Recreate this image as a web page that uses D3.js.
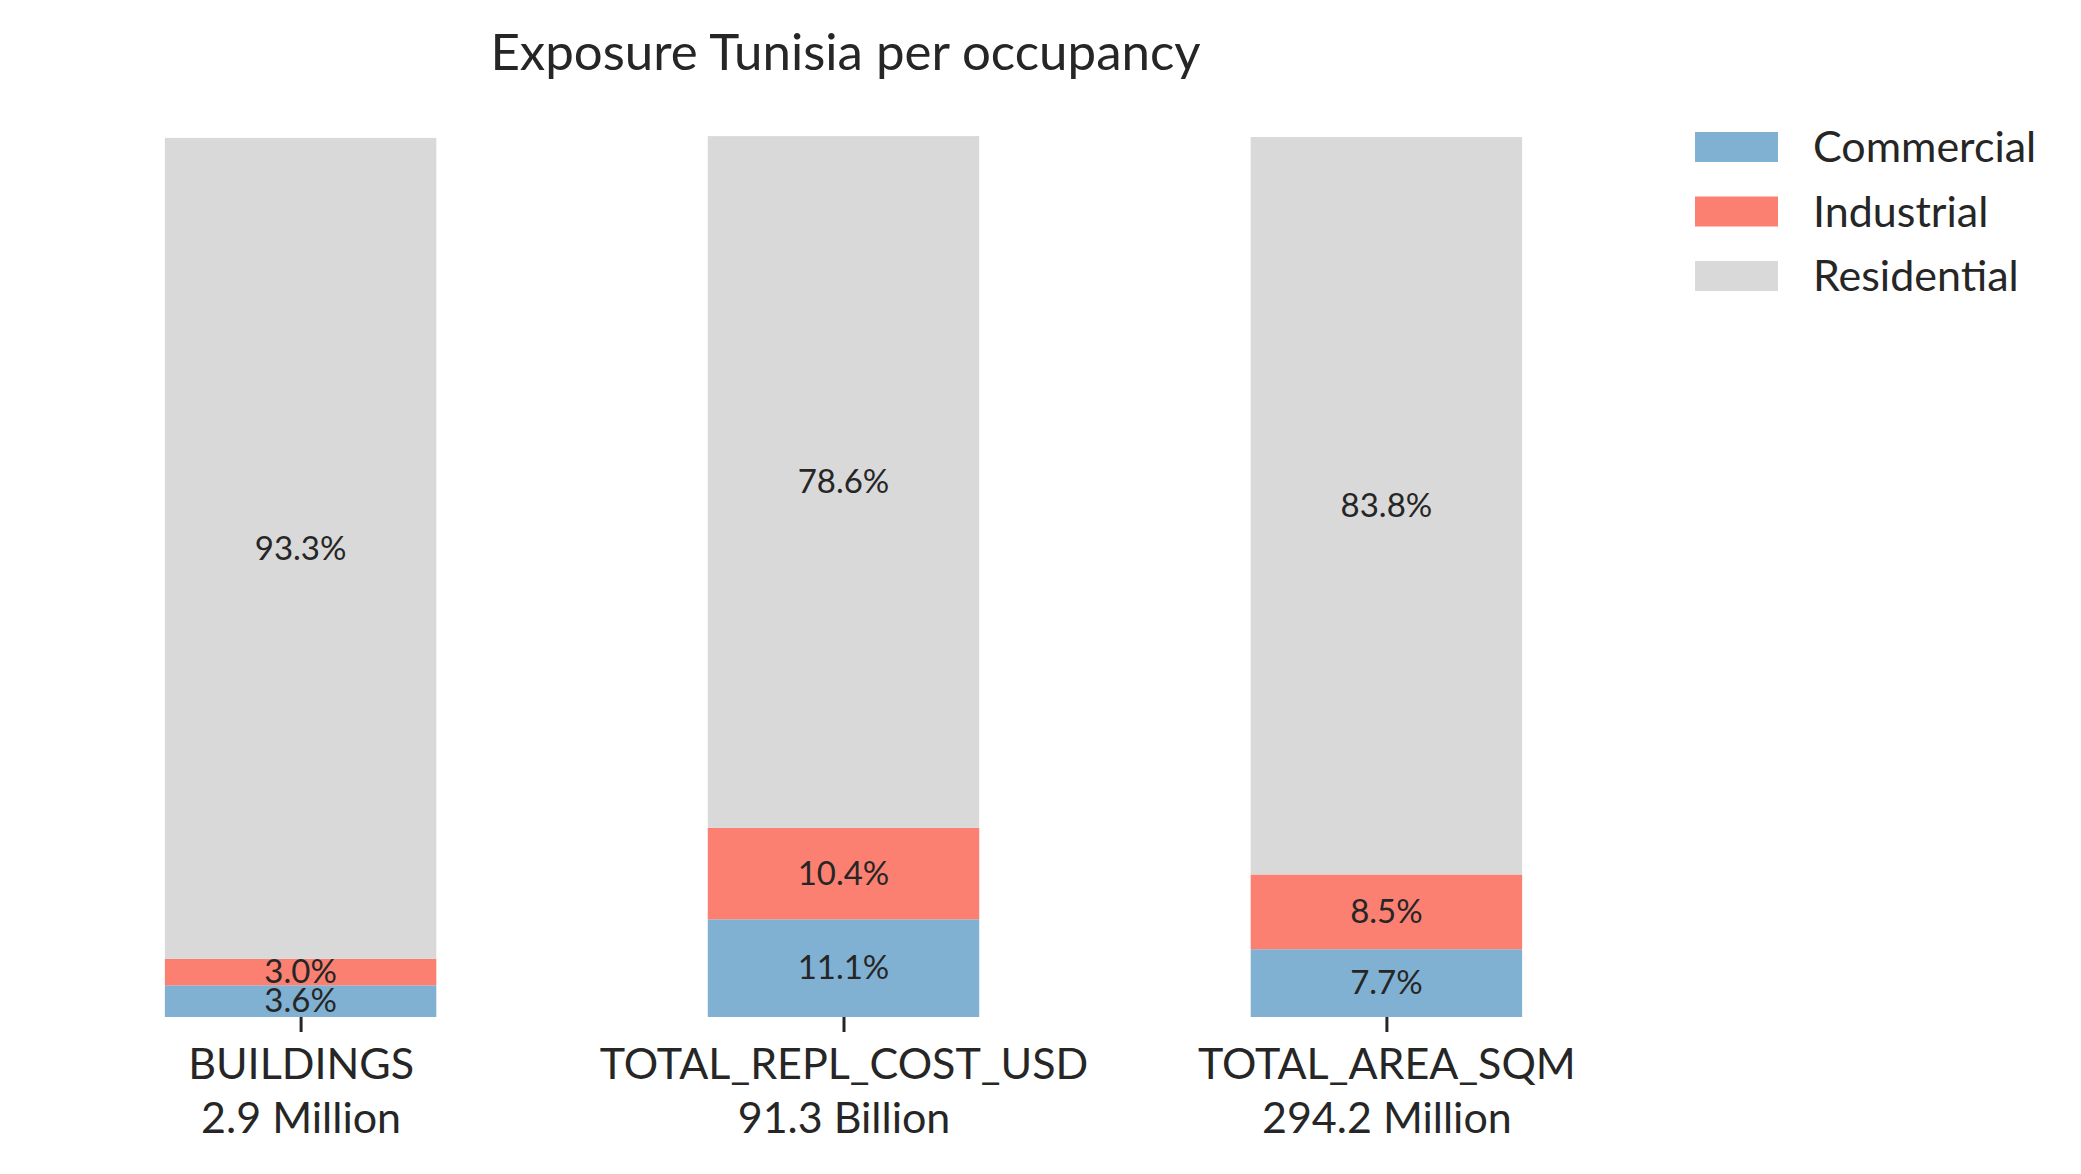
<!DOCTYPE html>
<html>
<head>
<meta charset="utf-8">
<script src="https://cdn.jsdelivr.net/npm/d3@7"></script>
<style>
  body { margin: 0; background: #fff; }
  svg, svg text { font-family: Lato, "Noto Sans", sans-serif; }
  svg { display: block; }
  text { fill: #262626; }
</style>
</head>
<body>
<svg id="chart" width="2081" height="1174"></svg>
<script>
// Data
const metrics = ["BUILDINGS", "TOTAL_REPL_COST_USD", "TOTAL_AREA_SQM"];
const totals = ["2.9 Million", "91.3 Billion", "294.2 Million"];
const occupancies = ["Commercial", "Industrial", "Residential"];
const commercial = [3.6, 11.1, 7.7];
const industrial = [3.0, 10.4, 8.5];
const residential = [93.3, 78.6, 83.8];
const colors = ["#80b1d3", "#fb8072", "#d9d9d9"];

const seriesValues = [commercial, industrial, residential];

const svg = d3.select("#chart");

// Layout
const margin = { left: 97, right: 491, top: 137, bottom: 157 };
const width = 2081, height = 1174;

// x works like matplotlib's bar positions (0, 1, 2) with margins
const x = d3.scaleLinear()
    .domain([-0.375, metrics.length - 1 + 0.375])
    .range([margin.left, width - margin.right]);
const barWidth = 0.5;

const y = d3.scaleLinear()
    .domain([0, 100])
    .range([height - margin.bottom, margin.top]);

const color = d3.scaleOrdinal().domain(occupancies).range(colors);

// Stack rows
const rows = metrics.map((m, i) => {
    const row = { metric: m };
    occupancies.forEach((o, k) => { row[o] = seriesValues[k][i]; });
    return row;
});
const stacked = d3.stack().keys(occupancies)(rows);

const layers = svg.append("g")
    .selectAll("g")
    .data(stacked)
    .enter()
    .append("g")
    .attr("fill", d => color(d.key));

layers.selectAll("rect")
    .data(d => d)
    .enter()
    .append("rect")
    .attr("x", (d, i) => x(i - barWidth / 2))
    .attr("width", x(barWidth) - x(0))
    .attr("y", d => y(d[1]))
    .attr("height", d => y(d[0]) - y(d[1]));

// Percentage labels centred in each segment
layers.selectAll("text")
    .data(d => d.map(p => ({ p: p, key: d.key })))
    .enter()
    .append("text")
    .attr("x", (d, i) => x(i))
    .attr("y", d => y((d.p[0] + d.p[1]) / 2))
    .attr("dy", "0.34em")
    .attr("text-anchor", "middle")
    .style("font-size", "33px")
    .text(d => d.p.data[d.key].toFixed(1) + "%");

// Bottom axis, ticks only
const xAxis = d3.axisBottom(x)
    .tickValues(d3.range(metrics.length))
    .tickSize(15)
    .tickFormat("");

const axisG = svg.append("g")
    .attr("transform", `translate(0,${y(0)})`)
    .call(xAxis)
    .attr("font-family", null)
    .attr("font-size", null);
axisG.select(".domain").remove();
axisG.selectAll(".tick line")
    .attr("stroke", "#262626")
    .attr("stroke-width", 3);

axisG.selectAll(".tick").each(function(d) {
    const t = d3.select(this).append("text")
        .attr("text-anchor", "middle")
        .style("font-size", "43px")
        .attr("fill", "#262626");
    t.append("tspan").attr("x", 0).attr("y", 62).text(metrics[d]);
    t.append("tspan").attr("x", 0).attr("y", 116).text(totals[d]);
});

// Title
svg.append("text")
    .attr("x", (margin.left + width - margin.right) / 2 + 2)
    .attr("y", 70)
    .attr("text-anchor", "middle")
    .style("font-size", "51px")
    .text("Exposure Tunisia per occupancy");

// Legend
const legend = svg.append("g")
    .attr("transform", "translate(1695,132)");

const item = legend.selectAll("g")
    .data(occupancies)
    .enter()
    .append("g")
    .attr("transform", (d, i) => `translate(0,${i * 64.5})`);

item.append("rect")
    .attr("width", 83)
    .attr("height", 30)
    .attr("fill", d => color(d));

item.append("text")
    .attr("x", 118)
    .attr("y", 15)
    .attr("dy", "0.36em")
    .style("font-size", "43px")
    .text(d => d);
</script>
</body>
</html>
